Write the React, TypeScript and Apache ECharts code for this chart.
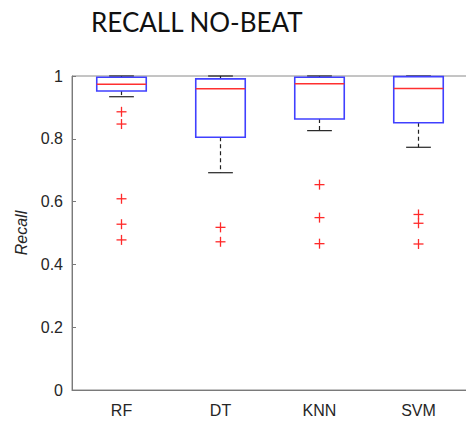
import React, { useEffect, useRef } from "react";
import * as echarts from "echarts";

const categories = ["RF", "DT", "KNN", "SVM"];
// [lowerWhisker, q1, median, q3, upperWhisker]
const boxStats = [
  [0.934, 0.952, 0.974, 0.996, 1.0],
  [0.692, 0.805, 0.959, 0.991, 1.0],
  [0.826, 0.863, 0.975, 0.996, 1.0],
  [0.773, 0.851, 0.96, 0.998, 1.0],
];
const outliersRF = [0.886, 0.847, 0.609, 0.528, 0.478];
const outliersDT = [0.518, 0.472];
const outliersKNN = [0.654, 0.549, 0.466];
const outliersSVM = [0.559, 0.531, 0.465];
const yTicks = [0, 0.2, 0.4, 0.6, 0.8, 1];

export default function App() {
  const ref = useRef<HTMLDivElement>(null);
  useEffect(() => {
    if (!ref.current) return;
    const chart = echarts.init(ref.current, undefined, { renderer: "svg" });
    const outlierData: number[][] = [];
    [outliersRF, outliersDT, outliersKNN, outliersSVM].forEach((arr, i) =>
      arr.forEach((v) => outlierData.push([i, v]))
    );
    const boxData = boxStats.map((s, i) => [i, ...s]);
    chart.setOption({
      animation: false,
      title: {
        text: "RECALL NO-BEAT",
        left: 86,
        top: 4,
        textStyle: { fontFamily: "Lato", fontSize: 26, fontWeight: "normal", color: "#111" },
      },
      grid: {
        left: 72,
        top: 76,
        width: 396,
        bottom: 37,
        outerBoundsMode: "none",
        containLabel: false,
        show: true,
        borderColor: "#8a8a8a",
        borderWidth: 1,
        backgroundColor: "transparent",
      },
      xAxis: {
        type: "category",
        data: categories,
        axisLine: { lineStyle: { color: "#7a7a7a", width: 1 } },
        axisTick: { inside: true, alignWithLabel: true, length: 4, lineStyle: { color: "#7a7a7a" } },
        axisLabel: { color: "#262626", fontSize: 16, fontFamily: "Liberation Sans", margin: 12 },
        splitLine: { show: false },
      },
      yAxis: {
        type: "value",
        min: 0,
        max: 1,
        interval: 0.2,
        name: "Recall",
        nameLocation: "middle",
        nameGap: 34,
        nameTextStyle: { fontStyle: "italic", fontSize: 16, color: "#262626", fontFamily: "Liberation Sans" },
        axisLine: { show: true, lineStyle: { color: "#7a7a7a", width: 1 } },
        axisTick: { show: true, inside: true, length: 4, lineStyle: { color: "#7a7a7a" } },
        axisLabel: {
          color: "#262626",
          fontSize: 16,
          fontFamily: "Liberation Sans",
          margin: 9,
          formatter: (v: number) => (yTicks.includes(Math.round(v * 10) / 10) ? String(Math.round(v * 10) / 10) : ""),
        },
        splitLine: { show: false },
      },
      series: [
        {
          type: "custom",
          data: boxData,
          encode: { x: 0, y: [1, 2, 3, 4, 5] },
          renderItem: (params: any, api: any) => {
            const idx = api.value(0);
            const lo = api.coord([idx, api.value(1)]);
            const q1 = api.coord([idx, api.value(2)]);
            const med = api.coord([idx, api.value(3)]);
            const q3 = api.coord([idx, api.value(4)]);
            const hi = api.coord([idx, api.value(5)]);
            const band = api.size([1, 0])[0];
            const bw = band * 0.5;
            const cw = band * 0.25;
            const cx = lo[0];
            const black = { stroke: "#222", lineWidth: 1.2, fill: "none" };
            return {
              type: "group",
              children: [
                { type: "line", shape: { x1: cx, y1: q1[1], x2: cx, y2: lo[1] }, style: { ...black, lineDash: [4, 3] } },
                { type: "line", shape: { x1: cx, y1: q3[1], x2: cx, y2: hi[1] }, style: { ...black, lineDash: [4, 3] } },
                { type: "line", shape: { x1: cx - cw / 2, y1: lo[1], x2: cx + cw / 2, y2: lo[1] }, style: black },
                { type: "line", shape: { x1: cx - cw / 2, y1: hi[1], x2: cx + cw / 2, y2: hi[1] }, style: black },
                {
                  type: "rect",
                  shape: { x: cx - bw / 2, y: q3[1], width: bw, height: q1[1] - q3[1] },
                  style: { stroke: "#4040ff", lineWidth: 1.6, fill: "none" },
                },
                {
                  type: "line",
                  shape: { x1: cx - bw / 2, y1: med[1], x2: cx + bw / 2, y2: med[1] },
                  style: { stroke: "#ff3030", lineWidth: 1.5 },
                },
              ],
            };
          },
          z: 3,
        },
        {
          type: "custom",
          data: outlierData,
          encode: { x: 0, y: 1 },
          renderItem: (params: any, api: any) => {
            const p = api.coord([api.value(0), api.value(1)]);
            const h = 5;
            const st = { stroke: "#ff2a2a", lineWidth: 1.3 };
            return {
              type: "group",
              children: [
                { type: "line", shape: { x1: p[0] - h, y1: p[1], x2: p[0] + h, y2: p[1] }, style: st },
                { type: "line", shape: { x1: p[0], y1: p[1] - h, x2: p[0], y2: p[1] + h }, style: st },
              ],
            };
          },
          z: 3,
        },
      ],
    });
    return () => chart.dispose();
  }, []);
  return (
    <div
      ref={ref}
      style={{ position: "fixed", left: 0, top: 0, width: 466, height: 427, background: "#fff" }}
    />
  );
}
